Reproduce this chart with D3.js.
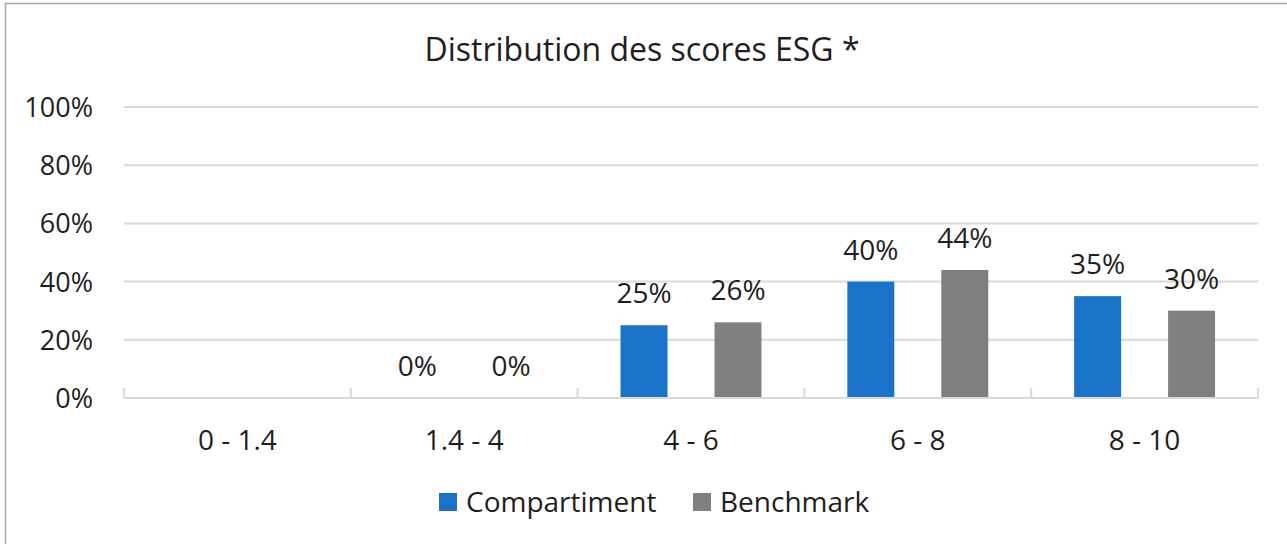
<!DOCTYPE html>
<html><head><meta charset="utf-8">
<script src="https://cdn.jsdelivr.net/npm/d3@7"></script>
<style>html,body{margin:0;padding:0;background:#fff;overflow:hidden}</style>
</head><body>
<script>
const categories = ["0 - 1.4", "1.4 - 4", "4 - 6", "6 - 8", "8 - 10"];
const compartiment = [null, 0, 25, 40, 35];
const benchmark = [null, 0, 26, 44, 30];
const yTicks = [0, 20, 40, 60, 80, 100];
const seriesNames = ["Compartiment", "Benchmark"];
const colors = ["#1A73C9", "#808080"];
const title = "Distribution des scores ESG *";

(function () {
const W = 1287, H = 544;
const font = "'Open Sans', sans-serif";
const textColor = "#1e1e1e";
const svg = d3.select("body").append("svg").attr("width", W).attr("height", H);

// frame
svg.append("rect").attr("x", 5.5).attr("y", 3.5).attr("width", W + 10).attr("height", H + 10)
  .attr("fill", "#fff").attr("stroke", "#a6a6a6").attr("stroke-width", 1.5);

const pL = 124, pR = 1258, pT = 107, pB = 398;
const x = d3.scaleBand().domain(categories).range([pL, pR]).paddingInner(0).paddingOuter(0);
const x1 = d3.scaleBand().domain(seriesNames).range([0, x.bandwidth()]).paddingInner(0.5).paddingOuter(0.457);
const y = d3.scaleLinear().domain([0, 100]).range([pB, pT]);

// title
svg.append("text").attr("x", 642).attr("y", 61).attr("text-anchor", "middle")
  .attr("font-family", font).attr("font-size", 32).attr("fill", textColor).text(title);

// gridlines
svg.append("g").selectAll("line").data(yTicks.filter(d => d > 0)).join("line")
  .attr("x1", pL).attr("x2", pR).attr("y1", d => y(d)).attr("y2", d => y(d))
  .attr("stroke", "#d9d9d9").attr("stroke-width", 2);

// y tick labels
svg.append("g").selectAll("text").data(yTicks).join("text")
  .attr("x", 93).attr("y", d => y(d) + 10).attr("text-anchor", "end")
  .attr("font-family", font).attr("font-size", 27).attr("fill", textColor)
  .text(d => d + "%");

// bars
const rows = categories.map((c, i) => ({ c, vals: [compartiment[i], benchmark[i]] }));
const g = svg.append("g").selectAll("g").data(rows).join("g")
  .attr("transform", d => `translate(${x(d.c)},0)`);
g.selectAll("rect").data(d => d.vals.map((v, j) => ({ v, s: seriesNames[j], j })).filter(e => e.v !== null))
  .join("rect")
  .attr("x", e => x1(e.s)).attr("width", x1.bandwidth())
  .attr("y", e => y(e.v)).attr("height", e => y(0) - y(e.v))
  .attr("fill", e => colors[e.j]);
g.selectAll("text").data(d => d.vals.map((v, j) => ({ v, s: seriesNames[j], j })).filter(e => e.v !== null))
  .join("text")
  .attr("x", e => x1(e.s) + x1.bandwidth() / 2).attr("y", e => y(e.v) - 22)
  .attr("text-anchor", "middle").attr("font-family", font).attr("font-size", 28)
  .attr("fill", textColor).text(e => e.v + "%");

// x axis line and ticks
svg.append("line").attr("x1", pL).attr("x2", pR).attr("y1", pB).attr("y2", pB)
  .attr("stroke", "#d9d9d9").attr("stroke-width", 2);
const tickPos = categories.map(c => x(c)).concat([pR]);
svg.append("g").selectAll("line").data(tickPos).join("line")
  .attr("x1", d => d).attr("x2", d => d).attr("y1", pB).attr("y2", pB - 10)
  .attr("stroke", "#d9d9d9").attr("stroke-width", 2);

// x labels
svg.append("g").selectAll("text").data(categories).join("text")
  .attr("x", d => x(d) + x.bandwidth() / 2).attr("y", 450).attr("text-anchor", "middle")
  .attr("font-family", font).attr("font-size", 28).attr("fill", textColor).text(d => d);

// legend
const legX = [439, 693];
const lg = svg.append("g").selectAll("g").data(seriesNames).join("g")
  .attr("transform", (d, i) => `translate(${legX[i]},493)`);
lg.append("rect").attr("width", 18).attr("height", 18).attr("fill", (d, i) => colors[i]);
lg.append("text").attr("x", 27).attr("y", 19).attr("font-family", font).attr("font-size", 28)
  .attr("fill", textColor).text(d => d);
})();
</script>
</body></html>
